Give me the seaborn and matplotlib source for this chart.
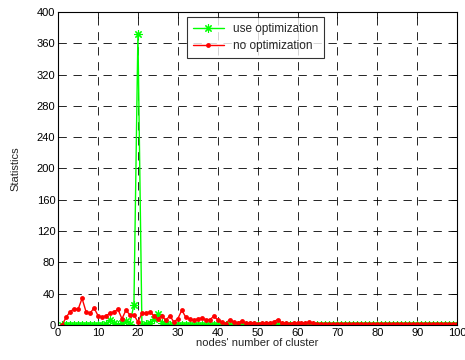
import matplotlib
matplotlib.use("Agg")
import matplotlib.pyplot as plt
import seaborn as sns
import pandas as pd

nodes = list(range(1, 101))

use_opt = [0, 0, 0, 0, 0, 0, 0, 0, 0, 0,
           0, 2, 6, 3, 0, 3, 5, 2, 26, 372,
           0, 2, 3, 8, 14, 3, 1, 0, 0, 0] + [0] * 70

no_opt_head = [0, 10, 17, 21, 20, 34, 17, 15, 22, 12,
               10, 12, 15, 17, 20, 8, 19, 13, 13, 4,
               15, 15, 17, 12, 8, 12, 6, 12, 4, 8,
               19, 10, 8, 6, 8, 9, 7, 7, 11, 7,
               4, 2, 7, 4, 3, 5, 3, 3, 3, 1,
               2.5, 2.5, 2.5, 4, 7, 3, 2.5, 1, 3, 2.5,
               2.5, 3, 4, 2.5]
no_opt = no_opt_head + [1.5, 1, 1.5, 1, 1.5, 1, 1, 1.5, 1, 1,
                        1.5, 1, 1, 1, 1.5, 1, 1, 1, 1.5, 1,
                        1, 1, 1.5, 1, 1, 1, 1.5, 1, 1, 1,
                        1.5, 1, 1, 1, 1, 1]

df = pd.DataFrame({"nodes": nodes, "use": use_opt, "no": no_opt})

sns.set_style("white")
plt.rcParams["font.family"] = ["Liberation Sans", "DejaVu Sans"]

fig = plt.figure(figsize=(4.65, 3.6), dpi=100)
ax = fig.add_axes([0.125, 0.097, 0.858, 0.870])

sns.lineplot(data=df, x="nodes", y="use", ax=ax, color="#00ff00", marker=(8, 2, 0),
             markersize=6, markeredgewidth=0.8, markeredgecolor="#00ff00",
             linewidth=1, label="use optimization")
sns.lineplot(data=df, x="nodes", y="no", ax=ax, color="#ff0000", marker="o",
             markersize=3.5, markeredgewidth=0, linewidth=1,
             label="no optimization")

ax.set_xlim(0, 100)
ax.set_ylim(0, 400)
ax.set_xticks(range(0, 101, 10))
ax.set_yticks(range(0, 401, 40))
ax.grid(True, color="black", linestyle=(0, (10, 8)), linewidth=0.6)
ax.tick_params(direction="in", top=True, right=True, labelsize=8, length=4,
               width=0.6, pad=2, colors="black")
for s in ax.spines.values():
    s.set_color("black")
    s.set_linewidth(0.8)

ax.set_xlabel("nodes' number of cluster", fontsize=8, labelpad=0)
ax.set_ylabel("Statistics", fontsize=8, labelpad=12)

leg = ax.legend(loc="upper left", bbox_to_anchor=(0.323, 0.984), fontsize=8.5,
                frameon=True, fancybox=False, edgecolor="black",
                borderpad=0.5, borderaxespad=0, handlelength=2.6,
                labelspacing=0.45)
leg.get_frame().set_linewidth(0.8)

fig.savefig("out.png", dpi=100)
